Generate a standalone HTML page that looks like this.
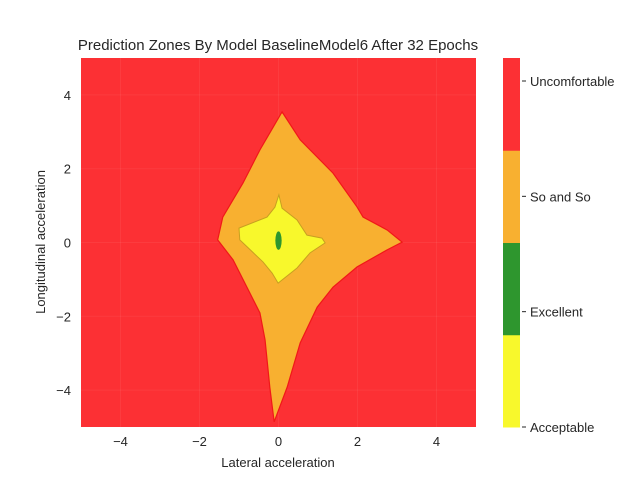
<!DOCTYPE html>
<html><head><meta charset="utf-8"><style>
body{margin:0;background:#fff;}
svg text{font-family:"Liberation Sans",Arial,sans-serif;fill:#262626;}
</style></head><body>
<svg width="640" height="480" viewBox="0 0 640 480" xmlns="http://www.w3.org/2000/svg">
<text x="278" y="50" font-size="15" text-anchor="middle">Prediction Zones By Model BaselineModel6 After 32 Epochs</text>
<g id="plot"></g>
<g id="xt"></g>
<g id="yt"></g>
<text x="278" y="467" font-size="13" text-anchor="middle">Lateral acceleration</text>
<text transform="translate(45,242) rotate(-90)" font-size="13" text-anchor="middle">Longitudinal acceleration</text>
<g id="cb"></g>
</svg>
<script>
const xTicks=[-4,-2,0,2,4];
const yTicks=[-4,-2,0,2,4];
const zoneLabels=["Acceptable","Excellent","So and So","Uncomfortable"];
const zoneColors=["#f8f82c","#2e962e","#f8b030","#fc3034"];
const orangeX=[0.09,0.55,1.38,1.99,2.14,2.75,3.13,2.75,1.99,1.38,0.98,0.55,0.22,-0.11,-0.22,-0.34,-0.47,-0.8,-1.15,-1.54,-1.41,-0.9,-0.47];
const orangeY=[3.54,2.78,1.88,0.96,0.69,0.34,0.01,-0.2,-0.66,-1.21,-1.75,-2.72,-3.92,-4.86,-3.92,-2.64,-1.91,-1.21,-0.47,0.07,0.69,1.61,2.51];
const yellowX=[0.01,0.09,0.47,0.72,1.1,1.18,0.8,0.47,-0.01,-0.16,-0.39,-0.98,-1.0,-0.29,-0.09];
const yellowY=[1.29,0.93,0.61,0.2,0.12,-0.01,-0.28,-0.69,-1.1,-0.83,-0.53,0.07,0.39,0.69,0.96];
const greenCenter=[0.0,0.05];
const greenRadius=[0.08,0.25];
const NS="http://www.w3.org/2000/svg";
const L=81,R=476,T=58,B=427;
const sx=v=>L+(v+5)/10*(R-L);
const sy=v=>B-(v+5)/10*(B-T);
function mk(tag,attrs,parent){const e=document.createElementNS(NS,tag);for(const k in attrs)e.setAttribute(k,attrs[k]);parent.appendChild(e);return e;}
const plot=document.getElementById('plot');
let r=mk('rect',{x:L,y:T,width:R-L,height:B-T,fill:zoneColors[3]},plot);


xTicks.forEach(t=>{let l=mk('line',{x1:sx(t),x2:sx(t),y1:T,y2:B,stroke:'#ffffff',"stroke-opacity":0.06},plot);});
yTicks.forEach(t=>{let l=mk('line',{x1:L,x2:R,y1:sy(t),y2:sy(t),stroke:'#ffffff',"stroke-opacity":0.06},plot);});
let po=mk('polygon',{points:orangeX.map((x,i)=>sx(x)+','+sy(orangeY[i])).join(' '),fill:zoneColors[2],stroke:'#f01818','stroke-width':1.2},plot);


let py=mk('polygon',{points:yellowX.map((x,i)=>sx(x)+','+sy(yellowY[i])).join(' '),fill:zoneColors[0],stroke:'#c8a020','stroke-width':1},plot);


let pg=mk('ellipse',{cx:sx(greenCenter[0]),cy:sy(greenCenter[1]),rx:sx(greenRadius[0])-sx(0),ry:sy(0)-sy(greenRadius[1]),fill:zoneColors[1]},plot);


const xt=document.getElementById('xt'),yt=document.getElementById('yt');
xTicks.forEach(t=>{let e=mk('text',{x:sx(t),y:B+19,"font-size":13,"text-anchor":"middle"},xt);e.textContent=(t<0?'\u2212':'')+Math.abs(t);});
yTicks.forEach(t=>{let e=mk('text',{x:L-10,y:sy(t)+5,"font-size":13,"text-anchor":"end"},yt);e.textContent=(t<0?'\u2212':'')+Math.abs(t);});
const cb=document.getElementById('cb');
const cL=503,cW=17,n=zoneLabels.length,seg=(B-T)/n;
const tickTop=81;
zoneLabels.forEach((lab,i)=>{
 let s=mk('rect',{x:cL,y:B-(i+1)*seg,width:cW,height:seg+0.5,fill:zoneColors[i]},cb);
 
 
 const ty=B-i*(B-tickTop)/(n-1);
 let tk=mk('line',{x1:cL+cW+2,x2:cL+cW+6,y1:ty,y2:ty,stroke:'#262626','stroke-width':1},cb);
 
 
 let e=mk('text',{x:cL+cW+10,y:ty+5,"font-size":13},cb);
 e.textContent=lab;
 
 
});
</script>
</body></html>
